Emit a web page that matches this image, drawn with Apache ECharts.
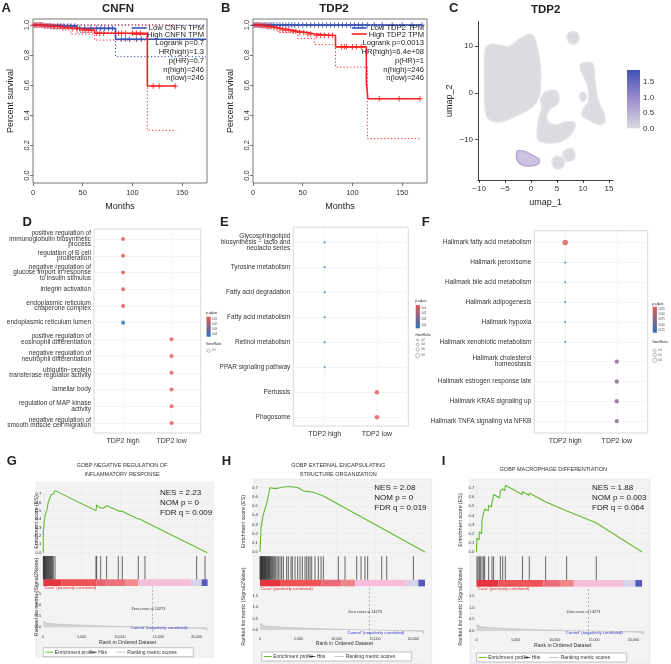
<!DOCTYPE html>
<html>
<head>
<meta charset="utf-8">
<title>TDP2 figure</title>
<script src="https://cdn.jsdelivr.net/npm/echarts@6/dist/echarts.min.js"></script>
<style>
  html, body { margin: 0; padding: 0; background: #fff; }
  #chart { width: 671px; height: 664px; }
</style>
</head>
<body>
<div id="chart"></div>
<script>
// ---------- A / B : Kaplan-Meier curves [months, survival] ----------
var monthTicks = [0, 50, 100, 150];
var survTicks = [0, 0.2, 0.4, 0.6, 0.8, 1.0];

var kmLowA = [[0, 1], [12, 0.994], [44, 0.978], [83, 0.905], [174, 0.905]];
var kmHighA = [[0, 1], [10, 0.995], [18, 0.99], [28, 0.982], [38, 0.975], [48, 0.965], [62, 0.945], [115, 0.595], [144, 0.595]];
var ciLowA = [[0, 1], [20, 0.98], [44, 0.952], [83, 0.79], [174, 0.79]];
var ciHighA = [[0, 1], [18, 0.975], [38, 0.94], [62, 0.9], [115, 0.3], [144, 0.3]];
var ciTopLowA = [[0, 1], [174, 1]];
var ciTopHighA = [[0, 1], [144, 1]];
var censorLowA = [2, 4, 7, 9, 12, 15, 18, 21, 25, 28, 31, 35, 38, 42, 47, 52, 58, 64, 68, 72, 76, 80, 89, 93, 97, 104, 109];
var censorHighA = [1, 3, 5, 7, 9, 11, 13, 15, 17, 19, 21, 23, 25, 27, 30, 33, 36, 40, 44, 47, 50, 53, 56, 59, 64, 67, 71, 86, 89, 93, 100, 104, 108, 121, 127, 143];
var statsA = ['Logrank p=0.7', 'HR(high)=1.3', 'p(HR)=0.7', 'n(high)=246', 'n(low)=246'];

var kmLowB = [[0, 1], [170, 1]];
var kmHighB = [[0, 1], [8, 0.995], [14, 0.99], [20, 0.982], [25, 0.975], [30, 0.967], [38, 0.958], [45, 0.95], [55, 0.94], [62, 0.93], [83, 0.855], [114, 0.62], [115.5, 0.51], [168, 0.51]];
var ciLowB = [[0, 1], [170, 1]];
var ciHighB = [[0, 1], [14, 0.98], [25, 0.95], [45, 0.91], [62, 0.87], [83, 0.72], [115, 0.245], [168, 0.245]];
var ciTopLowB = [[0, 1], [170, 1]];
var ciTopHighB = [[0, 1], [168, 1]];
var censorLowB = [1, 3, 5, 7, 9, 11, 13, 15, 17, 19, 21, 24, 27, 30, 33, 36, 39, 42, 46, 50, 54, 58, 62, 66, 70, 74, 78, 82, 86, 90, 94, 98, 102, 106, 110, 115, 122, 130, 140, 150, 160, 170];
var censorHighB = [2, 4, 6, 8, 10, 12, 14, 16, 18, 21, 24, 27, 30, 33, 36, 40, 43, 47, 51, 55, 58, 64, 68, 72, 76, 80, 89, 92, 94, 100, 104, 109, 127, 147, 168];
var statsB = ['Logrank p=0.0013', 'HR(high)=6.4e+08', 'p(HR)=1', 'n(high)=246', 'n(low)=246'];

// ---------- C : UMAP cluster outlines [umap_1, umap_2] ----------
var umapXTicks = [-10, -5, 0, 5, 10, 15];
var umapYTicks = [-10, 0, 10];
var umapMain = [[-0.45, 12.5], [0.5, 12], [1.3, 9.1], [1.8, 5.6], [1.8, 2], [1.5, -0.9], [0.2, -3], [-2.7, -4.8], [-6.2, -6.2], [-8.2, -5.5], [-8.8, -3.7], [-8.9, 2], [-8.8, 9.1], [-7.8, 10.4], [-5.9, 10.2], [-4.3, 9.9], [-2.4, 11.4]];
var umapMid = [[2.8, 0.2], [4.4, 0.6], [5.3, -0.5], [5.0, -2.3], [3.4, -3.7], [3.1, -5.9], [4.7, -6.9], [6.6, -6.2], [8.4, -6.4], [7.9, -8.4], [6.3, -10.1], [3.7, -10.7], [1.5, -10.1], [1.2, -8], [1.6, -5.1], [2.1, -3], [1.8, -1.6], [2.3, -0.3]];
var umapRight = [[9.5, 6.1], [11.8, 6.3], [12.2, 3.4], [12.6, -0.1], [13.1, -2.3], [14.0, -4.4], [14.1, -6.4], [12.7, -6.6], [10.8, -5.5], [9.8, -4.8], [10.3, -3], [11.1, -1.6], [10.8, 2], [10.0, 3.8]];
var umapSmall = [[9.4, -0.2], [10.3, 0.1], [10.6, -1.2], [9.8, -1.8]];
var umapTop = [[7.0, 12.5], [7.9, 13.1], [8.9, 12.8], [9.2, 11.6], [8.8, 10.7], [7.8, 10.6], [7.0, 11.4]];
var umapLow1 = [[4.3, -13.9], [5.4, -13.6], [6.4, -14.6], [6.0, -15.9], [4.9, -16.2], [4.1, -15.2]];
var umapLow2 = [[6.5, -12.3], [7.8, -12.0], [8.4, -13.0], [8.0, -14.3], [6.8, -14.5], [6.2, -13.4]];
var umapPurple = [[-2.6, -12.4], [-1.2, -12.5], [0.4, -13.4], [1.6, -14.2], [1.4, -15.1], [0, -15.6], [-1.7, -15.4], [-2.7, -14.3]];
var exprTicks = [0, 0.5, 1.0, 1.5];

// ---------- D / E / F : enrichment dot plots ----------
var groups = ['TDP2 high', 'TDP2 low'];
var termsD = ['positive regulation of\nimmunoglobulin biosynthetic\nprocess', 'regulation of B cell\nproliferation',
  'negative regulation of\nglucose import in response\nto insulin stimulus', 'integrin activation',
  'endoplasmic reticulum\nchaperone complex', 'endoplasmic reticulum lumen',
  'positive regulation of\neosinophil differentiation', 'negative regulation of\nneutrophil differentiation',
  'ubiquitin\u2212protein\ntransferase regulator activity', 'lamellar body',
  'regulation of MAP kinase\nactivity', 'negative regulation of\nsmooth muscle cell migration'];
var groupD = [1, 1, 1, 1, 1, 1, 2, 2, 2, 2, 2, 2];
var padjD = [0.011, 0.011, 0.011, 0.011, 0.011, 0.045, 0.011, 0.011, 0.011, 0.011, 0.011, 0.011];
var ratioD = [0.52, 0.52, 0.52, 0.52, 0.52, 0.52, 0.52, 0.52, 0.52, 0.52, 0.52, 0.52];

var termsE = ['Glycosphingolipid\nbiosynthesis \u2212 lacto and\nneolacto series', 'Tyrosine metabolism',
  'Fatty acid degradation', 'Fatty acid metabolism', 'Retinol metabolism', 'PPAR signaling pathway',
  'Pertussis', 'Phagosome'];
var groupE = [1, 1, 1, 1, 1, 1, 2, 2];
var padjE = [0.045, 0.045, 0.045, 0.045, 0.045, 0.045, 0.012, 0.012];
var ratioE = [0.12, 0.12, 0.12, 0.12, 0.12, 0.12, 0.6, 0.6];

var termsF = ['Hallmark fatty acid metabolism', 'Hallmark peroxisome', 'Hallmark bile acid metabolism',
  'Hallmark adipogenesis', 'Hallmark hypoxia', 'Hallmark xenobiotic metabolism',
  'Hallmark cholesterol\nhomeostasis', 'Hallmark estrogen response late', 'Hallmark KRAS signaling up',
  'Hallmark TNFA signaling via NFKB'];
var groupF = [1, 1, 1, 1, 1, 1, 2, 2, 2, 2];
var padjF = [0.025, 0.125, 0.125, 0.125, 0.125, 0.125, 0.075, 0.075, 0.075, 0.075];
var ratioF = [0.8, 0.12, 0.12, 0.12, 0.12, 0.12, 0.58, 0.58, 0.58, 0.58];

// ---------- G / H / I : GSEA (rank in ordered dataset) ----------
var rankTicks = [0, 5000, 10000, 15000, 20000];
var esTicks = [0, 0.1, 0.2, 0.3, 0.4, 0.5, 0.6, 0.7];
var metricTicks = [0, 0.5, 1.0, 1.5];
var zeroCross = 14273;
var rankedMetric = [[0, 0.28], [150, 0.21], [500, 0.18], [1500, 0.15], [3000, 0.12], [5000, 0.09], [8000, 0.055], [11000, 0.025], [14273, 0], [17000, -0.02], [20000, -0.04], [21000, -0.06], [21400, -0.15]];

var esG = [[0, 0], [5, 0.23], [135, 0.39], [310, 0.47], [480, 0.51], [660, 0.61], [830, 0.64], [1000, 0.69], [1180, 0.71], [1310, 0.70], [1530, 0.74], [6870, 0.50], [6960, 0.57], [7310, 0.54], [7480, 0.557], [7830, 0.53], [8260, 0.56], [9570, 0.51], [10000, 0.49], [10300, 0.497], [10650, 0.477], [12170, 0.41], [12600, 0.40], [21390, 0]];
var hitsG = [10, 50, 100, 160, 220, 290, 360, 430, 500, 580, 660, 740, 830, 920, 1000, 1090, 1180, 1310, 1530, 6870, 6960, 7480, 8260, 9780, 10300, 12390, 13260, 20000, 21090];
var barStartG = [0, 2400, 6960, 8260, 10650, 12390, 19350, 20650];
var barEndG = 21430;
var statsG = ['NES = 2.23', 'NOM p = 0', 'FDR q = 0.009'];

var esH = [[0, 0], [130, 0.26], [305, 0.35], [480, 0.42], [650, 0.47], [870, 0.53], [1090, 0.62], [1300, 0.70], [1520, 0.68], [1960, 0.69], [2610, 0.70], [3260, 0.71], [4130, 0.71], [5000, 0.70], [5650, 0.665], [6090, 0.66], [6960, 0.65], [8260, 0.61], [21520, 0]];
var hitsH = [0, 60, 120, 180, 217, 260, 320, 380, 435, 500, 560, 620, 652, 720, 790, 870, 940, 1010, 1087, 1160, 1230, 1304, 1400, 1522, 1608, 1739, 1870, 2043, 2217, 2391, 2609, 2826, 3043, 3478, 3696, 4043, 4217, 4565, 4913, 5217, 5522, 5870, 6087, 6304, 6522, 6739, 7174, 7609, 7957, 8261, 10217, 11087, 12609, 13174, 13696, 14043, 15870, 16522, 20000];
var barStartH = [0, 2610, 8040, 10650, 12390, 19130, 20650];
var barEndH = 21520;
var statsH = ['NES = 2.08', 'NOM p = 0', 'FDR q = 0.019'];

var esI = [[0, 0], [60, 0.15], [330, 0.13], [362, 0.22], [660, 0.20], [703, 0.35], [880, 0.33], [915, 0.43], [1043, 0.47], [1500, 0.45], [1554, 0.51], [1900, 0.49], [1980, 0.54], [2120, 0.52], [2192, 0.63], [2950, 0.59], [3043, 0.67], [3280, 0.65], [3341, 0.69], [3600, 0.67], [3682, 0.73], [5830, 0.63], [5870, 0.66], [6700, 0.62], [6740, 0.645], [8790, 0.55], [8830, 0.56], [11470, 0.45], [11510, 0.455], [15260, 0.32], [15300, 0.325], [21140, 0]];
var hitsI = [60, 200, 362, 490, 703, 915, 1043, 1554, 1980, 2192, 3043, 3341, 3682, 5870, 6740, 8830, 11510, 15300];
var barStartI = [0, 2810, 8540, 10650, 12430, 18800, 20280];
var barEndI = 21140;
var statsI = ['NES = 1.88', 'NOM p = 0.003', 'FDR q = 0.064'];

// ---------- styling ----------
var FONT = '"Liberation Sans", Arial, Helvetica, sans-serif';
var RED = '#ff1f1f', BLUE = '#3450b4';
var DOT_RED = '#e0585b', DOT_BLUE = '#2c73b6';
var ES_GREEN = '#66bb33';
var PLUS = 'path://M4 0h2v4h4v2h-4v4h-2v-4h-4v-2h4z';
var barColors8 = ['#e5343d', '#ee5356', '#ea6272', '#ec6f7c', '#f28c8e', '#f6bedc', '#d8d2ea', '#5858bc'];
var barColors7 = ['#e5343d', '#ee5356', '#ea6c78', '#f08688', '#f6bedc', '#d8d2ea', '#5858bc'];

var grids = [], xAxes = [], yAxes = [], series = [], graphics = [], visualMaps = [];

function addGrid(box, xa, ya) {
  grids.push(Object.assign({ outerBoundsMode: 'none', containLabel: false }, box));
  var i = grids.length - 1;
  xa.gridIndex = i; ya.gridIndex = i;
  xAxes.push(xa); yAxes.push(ya);
  return i;
}

function valAxis(o) {
  o.type = 'value';
  o.axisLine = Object.assign({ show: false, onZero: false }, o.axisLine);
  o.axisTick = Object.assign({ show: false }, o.axisTick);
  o.axisLabel = Object.assign({ show: false, fontFamily: FONT, color: '#333' }, o.axisLabel);
  o.splitLine = Object.assign({ show: false }, o.splitLine);
  if (o.name) o.nameTextStyle = Object.assign({ fontFamily: FONT, color: '#222' }, o.nameTextStyle);
  return o;
}

function text(x, y, str, o) {
  o = o || {};
  var st = { text: str, fill: o.color || '#222', fontSize: o.size || 8, fontWeight: o.weight || 'normal',
    fontFamily: FONT, align: o.align || 'left', verticalAlign: o.valign || 'middle',
    textAlign: o.align || 'left', textVerticalAlign: o.valign || 'middle' };
  if (o.lineHeight) st.lineHeight = o.lineHeight;
  graphics.push({ type: 'text', x: x, y: y, rotation: o.rotation || 0, z: 100, silent: true, style: st });
}

function seg(x1, y1, x2, y2, color, width) {
  graphics.push({ type: 'line', z: 100, silent: true, shape: { x1: x1, y1: y1, x2: x2, y2: y2 },
    style: { stroke: color, lineWidth: width } });
}

function stepValue(curve, t) {
  var v = curve[0][1];
  curve.forEach(function (p) { if (p[0] <= t) v = p[1]; });
  return v;
}

// ---------- survival panels ----------
function survivalPanel(p) {
  var gi = addGrid({ left: p.left, top: 19, width: 174, height: 164, show: true, borderColor: '#555', borderWidth: 0.8 },
    valAxis({ min: 0, max: 175, name: 'Months', nameLocation: 'middle', nameGap: 19, nameTextStyle: { fontSize: 9 },
      axisTick: { show: true, length: 3, customValues: monthTicks, lineStyle: { color: '#555', width: 0.8 } },
      axisLabel: { show: true, customValues: monthTicks, fontSize: 7.5, margin: 6 } }),
    valAxis({ min: -0.05, max: 1.04, name: 'Percent survival', nameLocation: 'middle', nameGap: 18, nameTextStyle: { fontSize: 9 },
      axisTick: { show: true, length: 3, customValues: survTicks, lineStyle: { color: '#555', width: 0.8 } },
      axisLabel: { show: true, customValues: survTicks, rotate: 90, fontSize: 7.5, margin: 2.5,
        formatter: function (v) { return v.toFixed(1); } } }));

  function km(data, color, dotted) {
    series.push({ type: 'line', xAxisIndex: gi, yAxisIndex: gi, data: data, step: 'end', symbol: 'none', silent: true,
      lineStyle: { color: color, width: dotted ? 1 : 1.6, type: dotted ? [1.2, 2.2] : 'solid' }, z: dotted ? 2 : 3 });
  }
  function censor(times, curve, color) {
    series.push({ type: 'scatter', xAxisIndex: gi, yAxisIndex: gi, silent: true, symbol: PLUS, symbolSize: 5.5,
      itemStyle: { color: color }, z: 4,
      data: times.map(function (t) { return [t, stepValue(curve, t)]; }) });
  }
  km(p.ciTopLow, BLUE, true); km(p.ciLow, BLUE, true);
  km(p.ciTopHigh, RED, true); km(p.ciHigh, RED, true);
  km(p.low, BLUE, false); censor(p.censorLow, p.low, BLUE);
  km(p.high, RED, false); censor(p.censorHigh, p.high, RED);

  var right = p.left + 171;
  seg(p.left + 98.7, 28, p.left + 113.7, 28, BLUE, 1.6);
  seg(p.left + 98.7, 34, p.left + 113.7, 34, RED, 1.6);
  text(right, 28, p.legendLow, { size: 7.6, align: 'right' });
  text(right, 34.5, p.legendHigh, { size: 7.6, align: 'right' });
  [43, 52, 61, 70, 77.5].forEach(function (y, i) { text(right, y, p.stats[i], { size: 7.6, align: 'right' }); });
  text(p.titleX, 8.5, p.title, { size: 11.5, weight: 'bold', align: 'center' });
  text(p.letterX, 8.5, p.letter, { size: 13, weight: 'bold' });
}

survivalPanel({ left: 33, low: kmLowA, high: kmHighA, ciLow: ciLowA, ciHigh: ciHighA, ciTopLow: ciTopLowA, ciTopHigh: ciTopHighA,
  censorLow: censorLowA, censorHigh: censorHighA, stats: statsA, legendLow: 'Low CNFN TPM', legendHigh: 'High CNFN TPM',
  title: 'CNFN', titleX: 118, letter: 'A', letterX: 1.5 });
survivalPanel({ left: 253, low: kmLowB, high: kmHighB, ciLow: ciLowB, ciHigh: ciHighB, ciTopLow: ciTopLowB, ciTopHigh: ciTopHighB,
  censorLow: censorLowB, censorHigh: censorHighB, stats: statsB, legendLow: 'Low TDP2 TPM', legendHigh: 'High TDP2 TPM',
  title: 'TDP2', titleX: 334, letter: 'B', letterX: 221 });

// ---------- UMAP panel ----------
function minusFmt(v) { return v < 0 ? '\u2212' + Math.abs(v) : String(v); }
var giC = addGrid({ left: 478, top: 21.5, width: 135.2, height: 158.4 },
  valAxis({ min: -10.2, max: 15.8, name: 'umap_1', nameLocation: 'middle', nameGap: 18, nameTextStyle: { fontSize: 9 },
    axisLine: { show: true, lineStyle: { color: '#111', width: 0.8 } },
    axisTick: { show: true, length: 3, customValues: umapXTicks, lineStyle: { color: '#111', width: 0.8 } },
    axisLabel: { show: true, customValues: umapXTicks, formatter: minusFmt, fontSize: 8, margin: 5 } }),
  valAxis({ min: -18.6, max: 15.3, name: 'umap_2', nameLocation: 'middle', nameGap: 24, nameTextStyle: { fontSize: 9 },
    axisLine: { show: true, lineStyle: { color: '#111', width: 0.8 } },
    axisTick: { show: true, length: 3, customValues: umapYTicks, lineStyle: { color: '#111', width: 0.8 } },
    axisLabel: { show: true, customValues: umapYTicks, formatter: minusFmt, fontSize: 8, margin: 5 } }));
var umapShapes = [umapMain, umapMid, umapRight, umapSmall, umapTop, umapLow1, umapLow2, umapPurple];
series.push({ type: 'custom', xAxisIndex: giC, yAxisIndex: giC, silent: true,
  data: umapShapes.map(function (s, i) { return [s[0][0], s[0][1], i]; }),
  renderItem: function (params, api) {
    var idx = api.value(2);
    var pts = umapShapes[idx].map(function (pt) { return api.coord(pt); });
    var purple = idx === umapShapes.length - 1;
    return { type: 'polygon', shape: { points: pts, smooth: 0.35 },
      style: { fill: purple ? '#cdc4e2' : '#dcdce0', stroke: purple ? '#b5a9d6' : '#e2e2e6', lineWidth: 1.5, lineJoin: 'round' } };
  } });
graphics.push({ type: 'rect', z: 50, silent: true, shape: { x: 627, y: 70, width: 13, height: 58.3 },
  style: { fill: new echarts.graphic.LinearGradient(0, 0, 0, 1, [{ offset: 0, color: '#3f51b5' }, { offset: 0.5, color: '#9d8ccc' }, { offset: 1, color: '#dadae2' }]) } });
exprTicks.forEach(function (v) { text(643, 128.3 - v * 31, v.toFixed(1), { size: 8, color: '#333' }); });
text(545.7, 9.5, 'TDP2', { size: 11.5, weight: 'bold', align: 'center' });
text(449, 8.5, 'C', { size: 13, weight: 'bold' });

// ---------- dot plot panels ----------
function dotPanel(p) {
  var rows = p.terms.map(function (t, i) { return i + 1; });
  var gi = addGrid({ left: p.left, top: p.top, width: p.width, height: p.height, show: true, borderColor: '#cfcfcf', borderWidth: 0.8, backgroundColor: '#fff' },
    valAxis({ min: 0.4, max: 2.6,
      axisTick: { show: false, customValues: [1, 2] },
      axisLabel: { show: true, customValues: [1, 2], fontSize: 7, margin: 5,
        formatter: function (v) { return groups[Math.round(v) - 1]; } },
      splitLine: { show: true, lineStyle: { color: '#eeeeee', width: 0.6 } } }),
    valAxis({ min: 0.4, max: p.ymax, inverse: true,
      axisTick: { show: false, customValues: rows },
      axisLabel: { show: true, customValues: rows, fontSize: 6.5, lineHeight: p.lh, margin: 3,
        formatter: function (v) { return p.terms[Math.round(v) - 1]; } },
      splitLine: { show: true, lineStyle: { color: '#eeeeee', width: 0.6 } } }));
  series.push({ type: 'scatter', xAxisIndex: gi, yAxisIndex: gi, silent: true,
    data: p.terms.map(function (t, i) { return [p.group[i], i + 1, p.padj[i], p.ratio[i]]; }),
    symbolSize: function (v) { return 1.5 + 5 * v[3]; } });
  visualMaps.push({ type: 'continuous', show: false, seriesIndex: series.length - 1, dimension: 2,
    min: p.pmin, max: p.pmax, inRange: { color: [DOT_RED, DOT_BLUE] } });
  text(p.letterX, 222.5, p.letter, { size: 13, weight: 'bold' });

  // tiny p.adjust / GeneRatio legend
  var L = p.legend;
  text(L.x - 0.5, L.titleY, 'p.adjust', { size: 3.2 });
  graphics.push({ type: 'rect', z: 50, silent: true, shape: { x: L.x, y: L.barTop, width: 4.2, height: L.barH },
    style: { fill: new echarts.graphic.LinearGradient(0, 0, 0, 1, [{ offset: 0, color: DOT_RED }, { offset: 1, color: DOT_BLUE }]) } });
  L.pLabels.forEach(function (s, i) { text(L.x + 5.5, L.barTop + (i + 0.5) * L.barH / L.pLabels.length, s, { size: 2.6, color: '#444' }); });
  text(L.x - 0.5, L.geneY, 'GeneRatio', { size: 3.2 });
  L.circles.forEach(function (c, i) {
    graphics.push({ type: 'circle', z: 50, silent: true, shape: { cx: L.x + 2, cy: c[0], r: c[1] }, style: { fill: '#fff', stroke: '#555', lineWidth: 0.4 } });
    text(L.x + 5.5, c[0], L.rLabels[i], { size: 2.6, color: '#444' });
  });
}

dotPanel({ left: 94, top: 229, width: 106.7, height: 204, ymax: 12.6, lh: 5.4, terms: termsD, group: groupD, padj: padjD, ratio: ratioD,
  pmin: 0.011, pmax: 0.045, letter: 'D', letterX: 22.5,
  legend: { x: 206.5, titleY: 313, barTop: 316.7, barH: 20, pLabels: ['0.01', '0.02', '0.03', '0.04'], geneY: 344, circles: [[350.7, 1.7]], rLabels: ['0.5'] } });
dotPanel({ left: 293.3, top: 227.3, width: 115, height: 198.7, ymax: 8.35, lh: 6, terms: termsE, group: groupE, padj: padjE, ratio: ratioE,
  pmin: 0.012, pmax: 0.045, letter: 'E', letterX: 220,
  legend: { x: 415.7, titleY: 301, barTop: 305, barH: 23.3, pLabels: ['0.01', '0.02', '0.03', '0.04'], geneY: 335, circles: [[340, 1.1], [344.5, 1.4], [349.5, 1.7], [355.5, 2.1]], rLabels: ['0.2', '0.4', '0.6', '0.8'] } });
dotPanel({ left: 534.3, top: 230.7, width: 113.4, height: 202.3, ymax: 10.6, lh: 6, terms: termsF, group: groupF, padj: padjF, ratio: ratioF,
  pmin: 0.025, pmax: 0.125, letter: 'F', letterX: 421.7,
  legend: { x: 652.7, titleY: 304, barTop: 306.7, barH: 26, pLabels: ['0.025', '0.050', '0.075', '0.100', '0.125'], geneY: 341.7, circles: [[350.7, 1.5], [355, 1.8], [360.2, 2.1]], rLabels: ['0.4', '0.5', '0.6'] } });

// ---------- GSEA panels ----------
function gseaPanel(p) {
  var k = p.width / 22000;
  var fr = p.frame;
  graphics.push({ type: 'rect', z: 0, silent: true, shape: { x: fr[0], y: fr[1], width: fr[2] - fr[0], height: fr[3] - fr[1] },
    style: { fill: '#f3f3f3', stroke: '#e2e2e2', lineWidth: 0.6 } });
  var boxStyle = { show: true, backgroundColor: '#fff', borderColor: '#c8c8c8', borderWidth: 0.6 };
  var rankAxis = function (labels) {
    return valAxis({ min: 0, max: 22000,
      axisTick: { show: false, customValues: rankTicks },
      axisLabel: { show: labels, customValues: rankTicks, fontSize: 3.6, margin: 3,
        formatter: function (v) { return v.toLocaleString('en-US'); } },
      splitLine: { show: !labels, lineStyle: { color: '#e6e6e6', width: 0.5 } } });
  };

  // enrichment score
  var ge = addGrid(Object.assign({ left: p.left, top: p.es[0], width: p.width, height: p.es[1] - p.es[0] }, boxStyle),
    rankAxis(false),
    valAxis({ min: p.es[2], max: p.es[3],
      axisTick: { show: false, customValues: esTicks },
      axisLabel: { show: true, customValues: esTicks, fontSize: 4.3, margin: 2, formatter: function (v) { return v.toFixed(1); } },
      splitLine: { show: true, lineStyle: { color: '#e6e6e6', width: 0.5 } } }));
  series.push({ type: 'line', xAxisIndex: ge, yAxisIndex: ge, data: p.esData, symbol: 'none', silent: true,
    lineStyle: { color: ES_GREEN, width: 1.1 } });

  // hits + ranked-list colour bar
  var hitBase = p.barFrac;
  var gh = addGrid(Object.assign({ left: p.left, top: p.hits[0], width: p.width, height: p.hits[1] - p.hits[0] }, boxStyle),
    rankAxis(false), valAxis({ min: 0, max: 1 }));
  series.push({ type: 'custom', xAxisIndex: gh, yAxisIndex: gh, silent: true,
    data: p.barStart.map(function (s, i) { return [s, i < p.barStart.length - 1 ? p.barStart[i + 1] : p.barEnd, i]; }),
    renderItem: function (params, api) {
      var a = api.coord([api.value(0), hitBase]);
      var b = api.coord([api.value(1), 0]);
      return { type: 'rect', shape: { x: a[0], y: a[1], width: b[0] - a[0], height: b[1] - a[1] },
        style: { fill: p.barColors[api.value(2)] } };
    } });
  series.push({ type: 'custom', xAxisIndex: gh, yAxisIndex: gh, silent: true,
    data: p.hitsData.map(function (r) { return [r, 1]; }),
    renderItem: function (params, api) {
      var t = api.coord([api.value(0), 1]);
      var b = api.coord([api.value(0), hitBase]);
      return { type: 'line', shape: { x1: t[0], y1: t[1], x2: b[0], y2: b[1] }, style: { stroke: '#262626', lineWidth: 0.7 } };
    } });

  // ranked list metric
  var gm = addGrid(Object.assign({ left: p.left, top: p.metric[0], width: p.width, height: p.metric[1] - p.metric[0] }, boxStyle),
    rankAxis(true),
    valAxis({ min: p.metric[2], max: p.metric[3],
      axisTick: { show: false, customValues: metricTicks },
      axisLabel: { show: true, customValues: metricTicks, fontSize: 4, margin: 2, formatter: function (v) { return v.toFixed(1); } } }));
  series.push({ type: 'line', xAxisIndex: gm, yAxisIndex: gm, data: rankedMetric, symbol: 'none', silent: true,
    lineStyle: { color: '#b8b8b8', width: 0.6 }, areaStyle: { color: '#c6c6c6' },
    markLine: { silent: true, symbol: 'none', label: { show: false },
      lineStyle: { color: '#8a8a8a', type: [2, 2], width: 0.6 }, data: [{ xAxis: zeroCross }] } });

  // texts
  var x0 = p.left;
  p.title.forEach(function (s, i) { text(p.titleX, p.titleY + i * 9, s, { size: 5.5, align: 'center', color: '#333' }); });
  text(p.letterX, 461.5, p.letter, { size: 13, weight: 'bold' });
  p.stats.forEach(function (s, i) { text(p.statX, p.statY + i * 10, s, { size: 8 }); });
  text(p.axisNameX, p.esNameY, 'Enrichment score (ES)', { size: 5.3, align: 'center', rotation: Math.PI / 2, color: '#333' });
  text(p.axisNameX, p.metricNameY, 'Ranked list metric (Signal2Noise)', { size: 5.3, align: 'center', rotation: Math.PI / 2, color: '#333' });
  text(x0 + 0.5, p.metric[0] + 1.6, "'Case' (positively correlated)", { size: 4.2, color: '#e3262f' });
  text(x0 + 11500 * k, p.zeroY, 'Zero cross at ' + zeroCross, { size: 3.8, color: '#333' });
  text(x0 + 11300 * k, p.controlY, "'Control' (negatively correlated)", { size: 4.2, color: '#3a3acc' });
  text(x0 + p.width / 2, p.rankY, 'Rank in Ordered Dataset', { size: 5.2, align: 'center', color: '#333' });

  // legend box
  var lx = p.legend[0], ly = p.legend[1], cy = ly + 4.5;
  graphics.push({ type: 'rect', z: 90, silent: true, shape: { x: lx, y: ly, width: 150, height: 9 },
    style: { fill: '#fff', stroke: '#9a9a9a', lineWidth: 0.6 } });
  seg(lx + 2, cy, lx + 10, cy, ES_GREEN, 1);
  text(lx + 11.5, cy, 'Enrichment profile', { size: 5, color: '#333' });
  seg(lx + 47.5, cy, lx + 53.5, cy, '#222', 0.8);
  text(lx + 55, cy, 'Hits', { size: 5, color: '#333' });
  seg(lx + 73, cy, lx + 82, cy, '#c4c4c4', 1);
  text(lx + 84, cy, 'Ranking metric scores', { size: 5, color: '#333' });
}

gseaPanel({ left: 43.3, width: 168.7, frame: [36, 482.3, 213.3, 657.3],
  es: [485, 555.3, -0.031, 0.807], hits: [556, 586], barFrac: 0.223, metric: [586.5, 631.7, -0.2, 1.84],
  esData: esG, hitsData: hitsG, barStart: barStartG, barEnd: barEndG, barColors: barColors8, stats: statsG,
  title: ['GOBP NEGATIVE REGULATION OF', 'INFLAMMATORY RESPONSE'], titleX: 122, titleY: 465,
  letter: 'G', letterX: 6.7, statX: 160, statY: 492.7, axisNameX: 37, esNameY: 522, metricNameY: 597,
  zeroY: 609, controlY: 628, rankY: 642.7, legend: [43.3, 647.7] });
gseaPanel({ left: 260, width: 168.7, frame: [253.3, 479.3, 431.7, 663.3],
  es: [481.5, 554, -0.022, 0.768], hits: [556.3, 586.3], barFrac: 0.22, metric: [587, 634, -0.175, 1.88],
  esData: esH, hitsData: hitsH, barStart: barStartH, barEnd: barEndH, barColors: barColors7, stats: statsH,
  title: ['GOBP EXTERNAL ENCAPSULATING', 'STRUCTURE ORGANIZATION'], titleX: 338.3, titleY: 465,
  letter: 'H', letterX: 221.7, statX: 374.3, statY: 488, axisNameX: 243.3, esNameY: 521.7, metricNameY: 606.7,
  zeroY: 611.7, controlY: 632.7, rankY: 644, legend: [261.7, 652] });
gseaPanel({ left: 476.5, width: 172.3, frame: [470, 479.3, 650, 663.3],
  es: [480.7, 554, -0.022, 0.78], hits: [556.3, 586.7], barFrac: 0.22, metric: [587, 635, -0.17, 1.87],
  esData: esI, hitsData: hitsI, barStart: barStartI, barEnd: barEndI, barColors: barColors7, stats: statsI,
  title: ['GOBP MACROPHAGE DIFFERENTIATION'], titleX: 553.3, titleY: 469.3,
  letter: 'I', letterX: 441.7, statX: 592, statY: 488, axisNameX: 460.7, esNameY: 520, metricNameY: 606.7,
  zeroY: 612.3, controlY: 632.7, rankY: 646, legend: [476.7, 653] });

var chart = echarts.init(document.getElementById('chart'), null, { renderer: 'canvas' });
chart.setOption({
  animation: false,
  backgroundColor: '#fff',
  textStyle: { fontFamily: FONT },
  grid: grids,
  xAxis: xAxes,
  yAxis: yAxes,
  visualMap: visualMaps,
  series: series,
  graphic: { elements: graphics }
});
</script>
</body>
</html>
